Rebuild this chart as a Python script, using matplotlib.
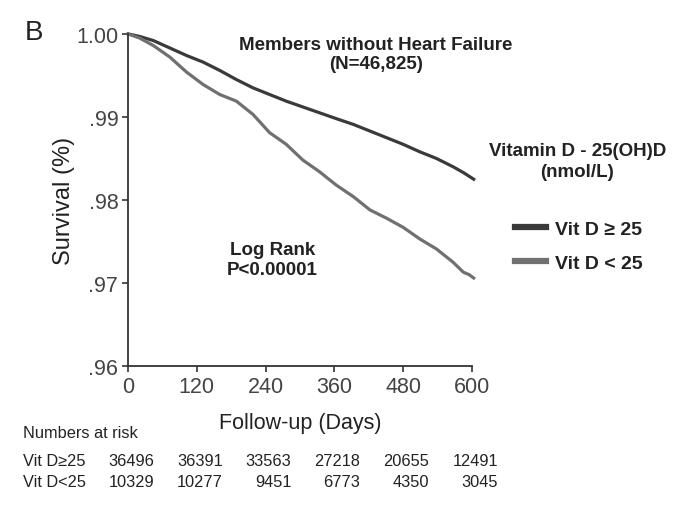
import matplotlib.pyplot as plt
from matplotlib.transforms import blended_transform_factory

plt.rcParams['font.family'] = ['Liberation Sans', 'DejaVu Sans']

# courbes de survie (jours, survie)
jours_haut = [0, 20, 44, 73, 102, 131, 160, 189, 218, 247, 276, 305, 334, 363, 393, 422, 451, 480, 509, 538, 567, 585, 603]
survie_haut = [1.0, 0.9997, 0.9992, 0.9983, 0.9974, 0.9966, 0.9956, 0.9945, 0.9935, 0.9927, 0.9919, 0.9912, 0.9905, 0.9898, 0.9891, 0.9883, 0.9875, 0.9867, 0.9858, 0.9850, 0.9840, 0.9833, 0.9825]

jours_bas = [0, 20, 44, 73, 102, 131, 160, 189, 218, 247, 276, 305, 334, 363, 393, 422, 451, 480, 509, 538, 567, 585, 595, 603]
survie_bas = [1.0, 0.9995, 0.9986, 0.9972, 0.9954, 0.9939, 0.9927, 0.9919, 0.9903, 0.9881, 0.9867, 0.9848, 0.9834, 0.9818, 0.9804, 0.9788, 0.9778, 0.9767, 0.9753, 0.9741, 0.9725, 0.9713, 0.9710, 0.9706]

ticks_x = [0, 120, 240, 360, 480, 600]
ticks_y = [0.96, 0.97, 0.98, 0.99, 1.00]
labels_y = ['.96', '.97', '.98', '.99', '1.00']

risque_haut = [36496, 36391, 33563, 27218, 20655, 12491]
risque_bas = [10329, 10277, 9451, 6773, 4350, 3045]

couleur_haut = '#3a3a3a'
couleur_bas = '#707070'
texte = '#222222'

fig = plt.figure(figsize=(6.85, 5.06), dpi=100)
ax = fig.add_axes([0.187, 0.2747, 0.502, 0.6563])

ax.plot(jours_haut, survie_haut, color=couleur_haut, lw=2.3, label='Vit D \u2265 25', clip_on=False)
ax.plot(jours_bas, survie_bas, color=couleur_bas, lw=2.3, label='Vit D < 25', clip_on=False)

ax.set_xlim(0, 600)
ax.set_ylim(0.96, 1.0)
ax.set_xticks(ticks_x)
ax.set_yticks(ticks_y)
ax.set_yticklabels(labels_y)
ax.spines['top'].set_visible(False)
ax.spines['right'].set_visible(False)
for s in ['left', 'bottom']:
    ax.spines[s].set_color('#333333')
    ax.spines[s].set_linewidth(1.3)
ax.tick_params(labelsize=15.5, colors='#444444', length=4, width=1.3, pad=3)
ax.set_ylabel('Survival (%)', fontsize=17, color=texte, labelpad=1)
ax.set_xlabel('Follow-up (Days)', fontsize=15.5, color=texte, labelpad=11)

fig.text(0.036, 0.935, 'B', fontsize=20, color=texte, va='center')

ax.text(0.72, 0.995, 'Members without Heart Failure\n(N=46,825)', transform=ax.transAxes,
        ha='center', va='top', fontsize=13.5, fontweight='bold', color=texte, linespacing=1.2)
ax.text(0.42, 0.32, 'Log Rank\nP<0.00001', transform=ax.transAxes,
        ha='center', va='center', fontsize=13.5, fontweight='bold', color=texte, linespacing=1.2)

fig.text(0.843, 0.68, 'Vitamin D - 25(OH)D\n(nmol/L)', ha='center', va='center',
         fontsize=13.5, fontweight='bold', color=texte, linespacing=1.3)
leg = fig.legend(loc='center left', bbox_to_anchor=(0.727, 0.512), frameon=False,
                 prop={'size': 14, 'weight': 'bold'}, handlelength=1.55,
                 handletextpad=0.5, labelspacing=0.85)
for t in leg.get_texts():
    t.set_color(texte)
for h in leg.get_lines():
    h.set_linewidth(4.5)

# tableau des nombres a risque
trans = blended_transform_factory(ax.transData, fig.transFigure)
fig.text(0.034, 0.144, 'Numbers at risk', fontsize=11.8, color=texte, va='center')
fig.text(0.034, 0.087, 'Vit D\u226525', fontsize=11.8, color=texte, va='center')
fig.text(0.034, 0.046, 'Vit D<25', fontsize=11.8, color=texte, va='center')
for j, n1, n2 in zip(ticks_x, risque_haut, risque_bas):
    ax.text(j + 45, 0.087, str(n1), transform=trans, ha='right', va='center', fontsize=11.8, color=texte)
    ax.text(j + 45, 0.046, str(n2), transform=trans, ha='right', va='center', fontsize=11.8, color=texte)

fig.savefig('out.png', dpi=100)
